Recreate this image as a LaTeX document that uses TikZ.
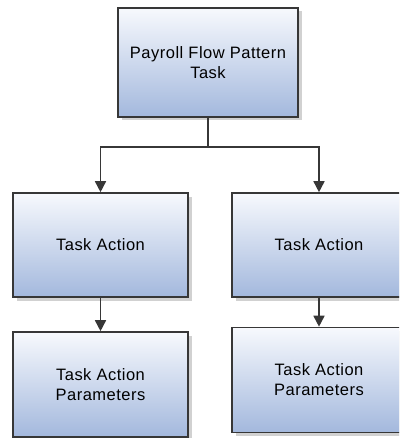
\documentclass[tikz,border=0pt]{standalone}
\usepackage{fontspec}
\setmainfont{Liberation Sans}[LetterSpace=3]
\usetikzlibrary{arrows.meta,shadows}
\definecolor{boxtop}{RGB}{247,249,253}
\definecolor{boxbot}{RGB}{163,184,221}
\definecolor{edge}{RGB}{55,55,55}
\tikzset{
  flowbox/.style={draw=edge, line width=1.6pt, top color=boxtop, bottom color=boxbot,
    align=center, inner sep=0pt, font=\fontsize{16.5}{20}\selectfont,
    drop shadow={shadow xshift=3.5pt, shadow yshift=-3.5pt, fill=black!30, opacity=0.6}},
  conn/.style={draw=edge, line width=1.6pt},
  arr/.style={conn, -{Triangle[length=11pt,width=11pt]}}
}
\begin{document}
\begin{tikzpicture}[x=1pt,y=-1pt]
\useasboundingbox (0,0) rectangle (399,438);
\clip (0,0) rectangle (399,438);
\node[flowbox, minimum width=180pt, minimum height=109pt] (top) at (208,62.5) {Payroll Flow Pattern\\Task};
\node[flowbox, minimum width=175pt, minimum height=104pt] (ta1) at (100.5,245) {Task Action};
\node[flowbox, minimum width=174pt, minimum height=104pt] (ta2) at (319,245) {Task Action};
\node[flowbox, minimum width=175pt, minimum height=105pt] (tp1) at (100.5,384.5) {Task Action\\Parameters};
\node[flowbox, minimum width=174pt, minimum height=105pt] (tp2) at (319,380) {Task Action\\Parameters};
\coordinate (split) at (208,147);
\draw[conn] (top.south) -- (split);
\draw[arr] (split) -| (ta1.north);
\draw[arr] (split) -| (ta2.north);
\draw[arr] (ta1.south) -- (tp1.north);
\draw[arr] (ta2.south) -- (tp2.north);
\end{tikzpicture}
\end{document}
